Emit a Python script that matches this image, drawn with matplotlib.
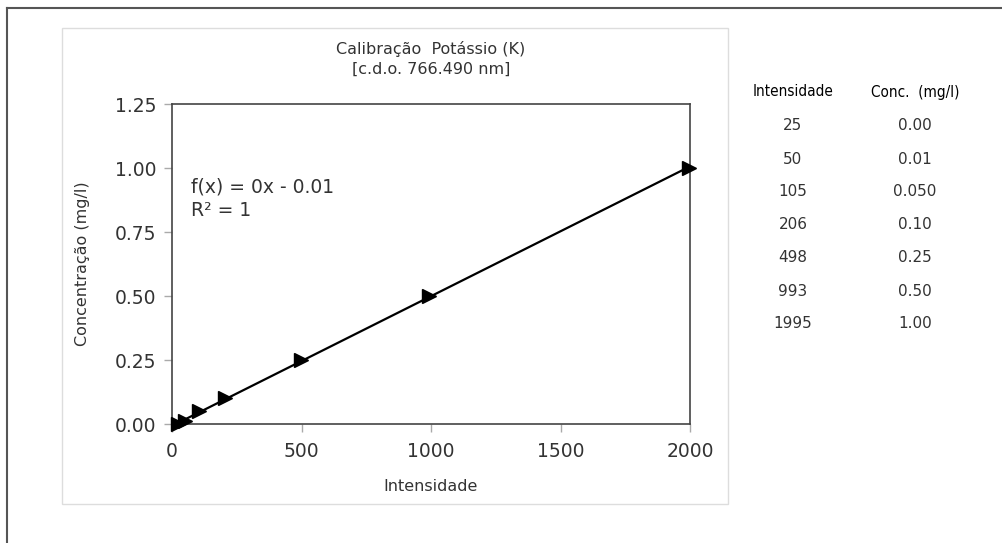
import matplotlib

matplotlib.use("Agg")
import matplotlib.pyplot as plt
import numpy as np
from matplotlib.patches import Rectangle
from matplotlib.lines import Line2D

# calibration standards: intensity read vs. known concentration
intensidade = [25, 50, 105, 206, 498, 993, 1995]
concentracao = [0.00, 0.01, 0.05, 0.10, 0.25, 0.50, 1.00]
conc_labels = ["0.00", "0.01", "0.050", "0.10", "0.25", "0.50", "1.00"]

x_ticks = [0, 500, 1000, 1500, 2000]
y_ticks = [0.00, 0.25, 0.50, 0.75, 1.00, 1.25]

TEXT = "#333333"
W, H = 1002, 543

fig = plt.figure(figsize=(W / 100, H / 100), dpi=100)
fig.patch.set_facecolor("white")


def fx(px):
    return px / W


def fy(py):
    return 1 - py / H


# outer page frame (top and left edges visible)
fig.add_artist(Line2D([fx(7), fx(7)], [fy(8), 0], color="#555555", lw=1.5))
fig.add_artist(Line2D([fx(7), 1], [fy(8), fy(8)], color="#555555", lw=1.5))

# chart area border
fig.add_artist(Rectangle((fx(62), fy(504)), fx(728) - fx(62), fy(28) - fy(504),
                         fill=False, edgecolor="#dddddd", lw=1))

ax = fig.add_axes([fx(172), fy(424), fx(690) - fx(172), fy(104) - fy(424)])

# least squares trendline
slope, intercept = np.polyfit(intensidade, concentracao, 1)
xs = np.array([0, max(intensidade)])
ax.plot(xs, slope * xs + intercept, color="black", lw=1.6, zorder=2)
ax.plot(intensidade, concentracao, linestyle="none", marker=">",
        markersize=9.5, color="black", clip_on=False, zorder=3)

ax.set_xlim(0, 2000)
ax.set_ylim(0, 1.25)
ax.set_xticks(x_ticks)
ax.set_yticks(y_ticks)
ax.set_yticklabels([f"{v:.2f}" for v in y_ticks])
ax.tick_params(labelsize=13.5, colors="#aaaaaa", labelcolor=TEXT, length=6, width=1)
ax.tick_params(axis="x", pad=7)
ax.tick_params(axis="y", pad=5)
for s in ax.spines.values():
    s.set_color("#444444")
    s.set_linewidth(1.2)

ax.set_xlabel("Intensidade", fontsize=11.5, color=TEXT, labelpad=13)
ax.set_ylabel("Concentração (mg/l)", fontsize=11.5, color=TEXT, labelpad=18)
ax.set_title("Calibração  Potássio (K)\n[c.d.o. 766.490 nm]", fontsize=11.5,
             color=TEXT, pad=22, linespacing=1.4)

r2 = np.corrcoef(intensidade, concentracao)[0, 1] ** 2
sign = "-" if intercept < 0 else "+"
ax.text(0.037, 0.703, f"f(x) = {slope:.0f}x {sign} {abs(intercept):.2f}\nR² = {r2:.0f}",
        transform=ax.transAxes, fontsize=13.5, color=TEXT, va="center",
        linespacing=1.3)

# side table with the standards
col_x = [fx(793), fx(915)]
fig.text(col_x[0], fy(92), "Intensidade", ha="center", va="center",
         fontsize=11, color="black", fontstretch="condensed")
fig.text(col_x[1], fy(92), "Conc.  (mg/l)", ha="center", va="center",
         fontsize=11, color="black", fontstretch="condensed")
for i, (xi, cl) in enumerate(zip(intensidade, conc_labels)):
    y = fy(126 + i * 33)
    fig.text(col_x[0], y, str(xi), ha="center", va="center", fontsize=11, color=TEXT)
    fig.text(col_x[1], y, cl, ha="center", va="center", fontsize=11, color=TEXT)

fig.savefig("out.png", dpi=100)
